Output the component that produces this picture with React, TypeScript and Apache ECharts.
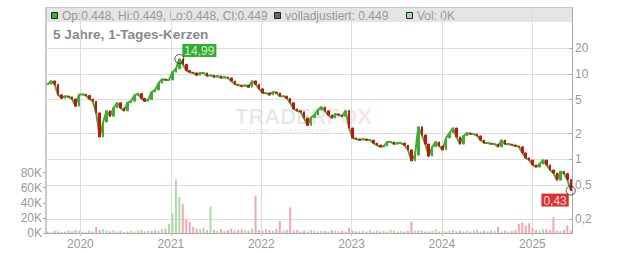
import React, { useEffect, useRef } from "react";
import * as echarts from "echarts";

// biweekly closes starting 2019-08-22
const closes = [
  7.6, 8.3, 7.6, 5.7, 5.2, 5.5, 5.4, 5.1, 4.2, 5.7,
  5.8, 5.6, 5.1, 4.8, 3.5, 1.83, 2.74, 3.7, 3.2, 4.0,
  4.6, 4.0, 3.7, 4.6, 4.8, 5.6, 5.9, 5.2, 4.8, 5.0,
  6.15, 6.5, 7.8, 8.7, 8.5, 8.5, 10.5, 11.5, 14.99, 13.0,
  11.0, 10.5, 10.3, 9.7, 10.3, 10.3, 9.5, 9.7, 9.2, 9.5,
  9.0, 9.2, 9.0, 8.3, 7.6, 7.4, 7.2, 7.4, 7.0, 8.3,
  7.6, 6.7, 6.0, 6.0, 5.7, 6.15, 6.0, 5.5, 5.5, 5.2,
  4.6, 3.9, 3.7, 3.6, 3.05, 2.5, 3.1, 3.3, 3.8, 4.1,
  3.7, 3.3, 3.05, 3.4, 3.3, 3.2, 3.7, 2.33, 1.78, 1.73,
  1.68, 1.73, 1.68, 1.68, 1.55, 1.47, 1.40, 1.43, 1.60, 1.60,
  1.51, 1.55, 1.55, 1.47, 1.29, 0.96, 1.12, 2.4, 1.93, 1.51,
  1.09, 1.40, 1.60, 1.43, 1.29, 1.78, 2.03, 2.33, 1.83, 1.51,
  1.88, 2.03, 1.98, 1.98, 1.88, 1.68, 1.55, 1.55, 1.51, 1.51,
  1.40, 1.68, 1.51, 1.51, 1.47, 1.43, 1.40, 1.19, 1.04, 0.98,
  0.86, 0.81, 0.88, 0.98, 0.86, 0.75, 0.69, 0.57, 0.72, 0.68,
  0.58, 0.43,
];

// volume in thousands
const volumesK = [
  2, 1, 3, 2, 1, 2, 3, 2, 4, 3,
  2, 1, 3, 2, 8, 4, 5, 3, 2, 4,
  2, 3, 1, 2, 3, 2, 3, 4, 2, 3,
  3, 4, 3, 5, 6, 12, 26, 71, 48, 38,
  18, 15, 8, 6, 5, 7, 4, 35, 4, 3,
  5, 3, 4, 6, 3, 4, 5, 4, 3, 6,
  49, 4, 3, 5, 4, 3, 5, 16, 3, 4,
  34, 3, 4, 2, 3, 2, 4, 3, 2, 3,
  3, 2, 4, 3, 2, 3, 2, 7, 3, 2,
  2, 3, 2, 4, 2, 3, 2, 3, 2, 4,
  3, 2, 3, 2, 3, 15, 3, 4, 3, 2,
  2, 3, 5, 2, 3, 2, 3, 4, 2, 3,
  2, 3, 2, 3, 4, 2, 3, 2, 3, 3,
  8, 2, 3, 2, 3, 4, 12, 14, 10, 13,
  6, 4, 3, 5, 5, 4, 21, 3, 3, 4,
  10, 3,
];

const yearTicks = [2020, 2021, 2022, 2023, 2024, 2025];
const priceTicks = [0.2, 0.5, 1, 2, 5, 10, 20];
const volumeTicks = [0, 20000, 40000, 60000, 80000];
const maxLabel = "14,99";
const lastLabel = "0,43";
const headerOhlc = "Op:0.448, Hi:0.449, Lo:0.448, Cl:0.449";
const headerAdj = "volladjustiert: 0.449";
const headerVol = "Vol: 0K";
const title = "5 Jahre, 1-Tages-Kerzen";

const FONT = "'Liberation Sans', Arial, sans-serif";
const UP = "#44aa33";
const DOWN = "#cc1111";

export default function App() {
  const ref = useRef<HTMLDivElement>(null);
  useEffect(() => {
    const chart = echarts.init(ref.current!, null, { renderer: "svg" });
    const DAY = 86400000;
    const start = Date.UTC(2019, 7, 22);
    const dates = closes.map((_, i) => start + i * 14 * DAY);
    const candles = closes.map((c, i) => {
      const o = i === 0 ? c : closes[i - 1];
      return [dates[i], o, c, Math.min(o, c), Math.max(o, c)];
    });
    const vols = volumesK.map((v, i) => {
      const o = i === 0 ? closes[0] : closes[i - 1];
      const up = closes[i] >= o;
      return { value: [dates[i], v * 1000], itemStyle: { color: up ? "#a9dea2" : "#f3a6ae" } };
    });
    let maxIdx = 0;
    closes.forEach((c, i) => { if (c > closes[maxIdx]) maxIdx = i; });
    const lastIdx = closes.length - 1;
    const yearMs = yearTicks.map((y) => Date.UTC(y, 0, 1));
    const fmtPrice = (v: number) => String(Number(Number(v).toPrecision(3))).replace(".", ",");

    const option: any = {
      animation: false,
      textStyle: { fontFamily: FONT },
      grid: { left: 46, right: 60, top: 8, bottom: 20, containLabel: false },
      xAxis: {
        type: "value",
        min: Date.UTC(2019, 7, 15),
        max: Date.UTC(2025, 5, 10),
        axisLine: { show: true, lineStyle: { color: "#aaa" } },
        axisTick: { show: true, length: 3, customValues: yearMs, lineStyle: { color: "#ccc" } },
        axisLabel: {
          customValues: yearMs,
          formatter: (v: number) => String(new Date(v).getUTCFullYear()),
          color: "#999",
          fontSize: 12,
          margin: 5,
          fontFamily: FONT,
        },
        splitLine: { show: true, lineStyle: { color: "#ddd", width: 1 } },
      },
      yAxis: [
        {
          type: "log",
          logBase: 10,
          position: "right",
          min: 0.1368,
          max: 59.4,
          axisLine: { show: true, lineStyle: { color: "#aaa" } },
          axisTick: { show: true, inside: true, length: 3, customValues: priceTicks, lineStyle: { color: "#aaa" } },
          axisLabel: {
            customValues: priceTicks,
            formatter: fmtPrice,
            color: "#999",
            fontSize: 12,
            margin: 3,
            fontFamily: FONT,
          },
          splitLine: { show: true, lineStyle: { color: "#ddd", width: 1 } },
        },
        {
          type: "value",
          position: "left",
          min: 0,
          max: 298000,
          axisLine: { show: true, lineStyle: { color: "#ccc" } },
          axisTick: { show: true, length: 3, customValues: volumeTicks, lineStyle: { color: "#aaa" } },
          axisLabel: {
            customValues: volumeTicks,
            formatter: (v: number) => Math.round(v / 1000) + "K",
            color: "#999",
            fontSize: 12,
            margin: 4,
            fontFamily: FONT,
          },
          splitLine: { show: false },
        },
      ],
      series: [
        {
          type: "bar",
          yAxisIndex: 1,
          data: vols,
          barWidth: 2,
          z: 1,
        },
        {
          type: "line",
          yAxisIndex: 0,
          data: closes.map((c, i) => [dates[i], c]),
          showSymbol: false,
          lineStyle: { color: UP, width: 2 },
          z: 2,
        },
        {
          type: "candlestick",
          yAxisIndex: 0,
          data: candles,
          encode: { x: 0, y: [1, 2, 3, 4] },
          barWidth: 2,
          itemStyle: { color: UP, color0: DOWN, borderColor: UP, borderColor0: DOWN, borderWidth: 1 },
          z: 3,
        },
        {
          type: "scatter",
          yAxisIndex: 0,
          symbol: "circle",
          symbolSize: 9,
          itemStyle: { color: "rgba(0,0,0,0)", borderColor: "#222", borderWidth: 1 },
          z: 5,
          data: [
            {
              value: [dates[maxIdx], closes[maxIdx]],
              label: {
                show: true,
                formatter: maxLabel,
                position: [8, -10],
                align: "left",
                verticalAlign: "top",
                backgroundColor: "#009900",
                color: "#fff",
                fontSize: 12,
                padding: [1, 2, 0, 2],
                fontFamily: FONT,
              },
            },
            {
              value: [dates[lastIdx], closes[lastIdx]],
              label: {
                show: true,
                formatter: lastLabel,
                position: [3, 8],
                align: "right",
                verticalAlign: "top",
                backgroundColor: "#cc0000",
                color: "#fff",
                fontSize: 12,
                padding: [1, 2, 0, 2],
                fontFamily: FONT,
              },
            },
          ],
        },
      ],
      graphic: [
        {
          type: "text",
          left: 235,
          top: 105,
          silent: true,
          z: 0,
          style: {
            text: "{a|TRADER}{b|FOX}",
            rich: {
              a: { fontSize: 22, lineHeight: 22, fontWeight: "bold", fill: "rgba(0,0,0,0.09)", fontFamily: FONT },
              b: { fontSize: 22, lineHeight: 22, fontWeight: "bold", fill: "rgba(230,40,60,0.15)", fontFamily: FONT },
            },
          },
        },
        {
          type: "text",
          left: 240,
          top: 128,
          silent: true,
          style: { text: "REALTIME STOCK SCREENING", fontSize: 6, fill: "rgba(0,0,0,0.1)", fontFamily: FONT, fontWeight: "bold" },
        },
        {
          type: "rect",
          shape: { x: 46, y: 8, width: 526, height: 14 },
          style: { fill: "rgba(0,0,0,0.1)" },
          silent: true,
        },
        {
          type: "rect",
          shape: { x: 45.5, y: 7.5, width: 527, height: 226 },
          style: { fill: "none", stroke: "#c8c8c8", lineWidth: 1 },
          silent: true,
        },
        { type: "rect", shape: { x: 51.5, y: 12.5, width: 6, height: 6 }, style: { fill: UP, stroke: "#222", lineWidth: 1 } },
        { type: "text", x: 62, y: 15.5, style: { text: headerOhlc, fontSize: 12, fill: "#999", fontFamily: FONT, verticalAlign: "middle" } },
        { type: "rect", shape: { x: 274.5, y: 12.5, width: 6, height: 6 }, style: { fill: "#666", stroke: "#222", lineWidth: 1 } },
        { type: "text", x: 285, y: 15.5, style: { text: headerAdj, fontSize: 12, fill: "#999", fontFamily: FONT, verticalAlign: "middle" } },
        { type: "rect", shape: { x: 406.5, y: 12.5, width: 6, height: 6 }, style: { fill: "#a9dea2", stroke: "#222", lineWidth: 1 } },
        { type: "text", x: 417, y: 15.5, style: { text: headerVol, fontSize: 12, fill: "#999", fontFamily: FONT, verticalAlign: "middle" } },
        { type: "text", x: 53, y: 34, style: { text: title, fontSize: 13.6, fontWeight: "bold", fill: "#8a8a8a", fontFamily: FONT, verticalAlign: "middle" } },
      ],
    };
    chart.setOption(option);
    return () => chart.dispose();
  }, []);
  return <div ref={ref} style={{ width: 632, height: 253, position: "absolute", left: 0, top: 0 }} />;
}
